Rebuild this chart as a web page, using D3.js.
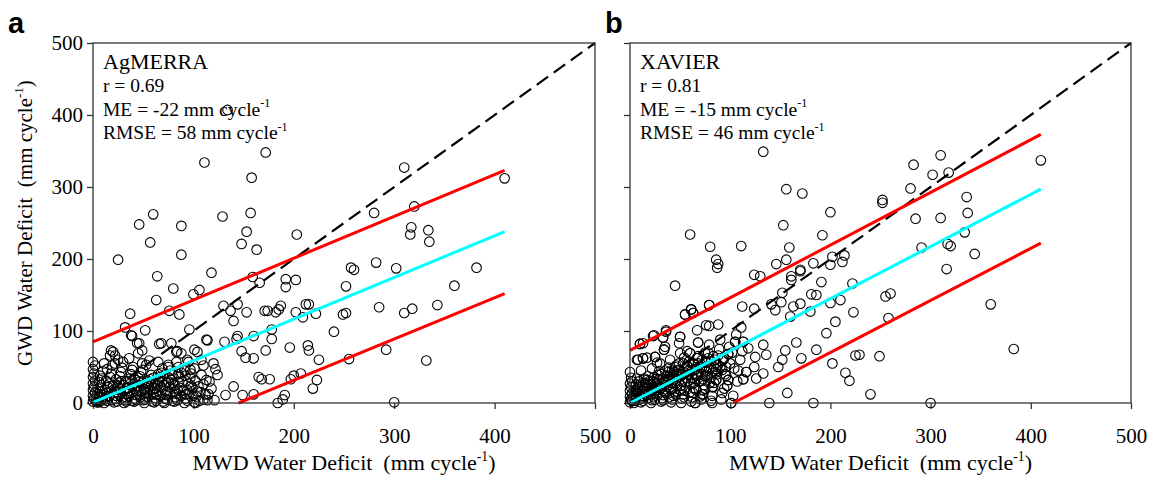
<!DOCTYPE html>
<html lang="en">
<head>
<meta charset="UTF-8">
<title>GWD vs MWD water deficit</title>
<script src="https://cdn.jsdelivr.net/npm/d3@7/dist/d3.min.js"></script>
<style>
    body { margin: 0; background: #fff; }
    svg text { font-family: "Liberation Serif", "Times New Roman", serif; fill: #000; }
    .frame { fill: none; stroke: #333; stroke-width: 1.3px; }
    .pt { fill: none; stroke: #000; stroke-width: 1.1px; }
    svg text.letter { font-family: "Liberation Sans", Arial, sans-serif; font-weight: bold; }
    .tick line { stroke: #333; stroke-width: 1.3px; }
</style>
</head>
<body>
<script>
    // tick values shared by both axes
    const ticks = [0, 100, 200, 300, 400, 500];

    // panel a: AgMERRA vs MWD  [MWD, GWD] in mm/cycle
    const agmerraPts = [
        [134,407],[111,334],[172,348],[158,313],[310,327],[280,264],[320,273],[317,244],[316,234],[334,240],[335,224],[410,312],
        [46,248],[60,262],[88,246],[129,259],[157,264],[153,238],[57,223],[148,221],[163,213],[203,234],[88,206],[25,199],
        [257,188],[260,185],[282,195],[118,181],[302,187],[382,188],[252,162],[360,163],[285,133],[249,123],[252,125],[310,125],
        [318,131],[343,136],[240,99],[292,74],[255,61],[332,59],[300,1],
        [64,176],[159,175],[166,167],[192,172],[202,171],[192,161],[80,159],[100,151],[106,157],[63,143],[76,128],[86,123],
        [37,124],[130,135],[144,137],[137,128],[153,126],[140,114],[171,128],[174,128],[182,126],[187,135],[185,130],[212,137],
        [215,137],[209,119],[222,124],[202,126],
        [52,101],[39,93],[46,83],[49,73],[68,83],[96,102],[114,87],[131,85],[143,89],[144,93],[160,93],[178,102],[178,89],
        [172,73],[148,72],[152,63],[160,62],[196,77],[214,80],[215,73],[225,60],[104,71],[84,72],[94,60],[83,57],[75,50],
        [18,73],[22,66],[120,55],[122,47],[124,39],[110,52],[98,41],[165,36],[168,33],[176,33],[140,23],[149,11],[160,12],
        [197,33],[200,38],[207,41],[223,32],[219,20],[191,11],[184,0],[132,11],[121,4],[102,0],[189,5],
        // dense cloud near the origin
        [0,2],[1,6],[0,10],[2,14],[0,18],[1,22],[0,27],[2,31],[0,36],[1,41],[0,47],[2,52],[0,57],
        [4,1],[5,4],[6,8],[4,12],[7,16],[5,20],[8,25],[6,29],[9,34],[7,38],[10,44],[8,3],[9,11],
        [11,0],[12,5],[13,9],[14,14],[12,18],[15,22],[16,27],[13,31],[17,36],[18,41],[14,47],[19,52],[17,66],[20,71],[11,55],
        [21,1],[22,6],[23,10],[24,15],[21,19],[25,23],[26,28],[23,33],[27,37],[28,43],[22,55],[29,49],[25,60],
        [31,0],[32,4],[33,8],[34,13],[31,17],[35,21],[36,26],[33,30],[37,34],[38,40],[30,57],[39,46],[32,105],[38,94],[36,62],
        [41,2],[42,6],[43,11],[44,16],[41,20],[45,24],[46,29],[42,32],[47,37],[48,43],[40,50],[44,83],[45,69],[49,55],
        [51,0],[52,5],[53,9],[54,14],[51,19],[55,23],[56,28],[52,23],[57,33],[58,39],[53,53],[56,59],[50,46],
        [61,1],[62,7],[63,12],[64,17],[61,21],[65,26],[66,31],[62,27],[67,36],[68,42],[65,57],[66,82],[69,48],
        [71,0],[72,6],[73,11],[74,16],[71,25],[75,30],[76,35],[72,40],[77,45],[75,53],[78,32],[78,83],
        [81,2],[82,8],[83,13],[84,19],[81,24],[85,29],[86,36],[88,42],[85,50],[83,71],[88,69],
        [91,0],[92,6],[93,12],[94,18],[95,27],[97,35],[91,45],[95,57],[99,21],
        [101,1],[103,9],[105,23],[107,15],[108,60],[101,48],[101,74],[113,32],[110,5],[115,12],[118,20],[113,88],
        [3,3],[6,1],[9,7],[11,13],[14,3],[16,9],[18,16],[19,4],[20,24],[24,2],[26,12],[27,19],[29,7],[28,30],[30,25],
        [33,2],[34,20],[36,9],[37,17],[39,3],[40,26],[43,4],[44,22],[45,35],[47,8],[48,18],[49,28],[50,4],[52,14],[54,31],
        [55,8],[57,18],[58,26],[59,2],[60,12],[60,35],[62,20],[63,3],[65,40],[67,10],[68,22],[69,30],[70,2],[72,17],[73,28],
        [74,5],[76,22],[77,13],[79,3],[79,39],[80,28],[82,16],[84,4],[85,40],[87,21],[88,10],[89,30],[90,17],[92,38],[94,3],
        [96,13],[97,46],[98,24],[100,10],[102,31],[104,16],[106,3],[108,39],[110,26],[112,12],[114,4],[116,30]
    ];

    // panel b: XAVIER vs MWD
    const xavierPts = [
        [133,349],[283,331],[156,297],[172,291],[280,298],[252,282],[252,278],[200,265],[285,256],[153,247],[60,234],[192,233],
        [80,217],[111,218],[159,216],[291,216],[86,199],[88,193],[146,193],[156,199],[183,194],[202,203],[214,205],[212,196],
        [200,192],[170,185],
        [310,344],[302,317],[318,320],[410,337],[336,286],[337,264],[310,257],[334,237],[317,221],[320,218],[344,207],[316,186],
        [255,148],[260,152],[258,118],[360,137],[249,65],[383,75],[240,12],[300,0],[229,67],
        [87,188],[45,163],[124,178],[130,176],[161,176],[170,183],[161,171],[191,168],[222,166],[181,151],[186,150],[200,139],
        [210,143],[170,138],[151,140],[152,153],[141,137],[145,129],[163,134],[160,120],[180,127],[223,126],[124,131],[112,134],
        [79,136],[61,130],[63,125],[55,123],[205,113],[196,97],[166,84],[171,62],[186,74],[202,55],[215,42],[219,31],[225,66],
        [155,73],[152,60],[148,50],[133,41],[126,34],[113,33],[116,43],[124,50],[125,64],[118,76],[113,85],[133,81],[136,67],
        [105,85],[98,68],[93,60],[86,47],[98,32],[86,32],[97,24],[82,22],[157,14],[183,0],[139,0],[101,0],[82,0],[65,0],
        [73,12],[67,62],[60,69],[64,54],[67,101],[76,108],[79,107],[88,109],[68,84],[79,81],[50,92],[33,91],[23,93],[10,82],
        [34,74],[25,64],[36,101],[13,62],[7,60],
        // dense cloud near the origin
        [0,1],[1,5],[0,9],[2,13],[0,17],[1,22],[0,27],[1,35],[0,43],[2,30],
        [4,0],[5,3],[6,7],[4,11],[7,14],[5,18],[8,22],[6,26],[9,30],[7,34],[8,60],[9,5],[10,82],
        [11,1],[12,6],[13,10],[14,13],[12,17],[15,20],[16,25],[13,28],[17,32],[18,37],[14,34],[13,62],[17,63],[13,83],[19,15],[11,45],
        [21,0],[22,4],[23,9],[24,14],[21,18],[25,21],[26,26],[23,30],[27,34],[28,39],[29,44],[25,64],[27,56],[24,94],[22,48],
        [31,2],[32,7],[33,11],[34,16],[31,21],[35,25],[36,30],[33,34],[37,38],[38,43],[39,49],[35,78],[36,99],[33,91],[34,74],[30,55],
        [41,1],[42,5],[43,10],[44,15],[41,20],[45,26],[46,31],[42,35],[47,40],[48,46],[44,43],[49,83],[50,69],[49,55],[40,60],[46,52],[50,92],
        [51,0],[52,6],[53,12],[54,17],[51,24],[55,29],[56,35],[52,39],[57,44],[58,50],[55,123],[59,58],[54,63],[57,72],
        [61,2],[62,8],[63,14],[64,21],[61,27],[65,33],[66,40],[62,45],[67,48],[68,55],[61,130],[63,125],[67,62],[60,69],[68,84],[65,0],
        [71,5],[72,12],[73,18],[74,25],[71,31],[75,37],[76,44],[72,50],[77,56],[78,62],[79,136],[70,9],[75,70],
        [81,3],[82,10],[83,22],[84,28],[81,36],[85,42],[86,47],[88,53],[85,60],[86,32],[89,75],
        [91,5],[92,14],[93,60],[94,20],[95,40],[97,24],[98,32],[98,68],[96,50],[90,88],[99,78],
        [101,0],[103,10],[105,85],[107,30],[108,45],[110,60],[112,72],[113,33],[116,43],[113,85],[106,95],[111,105],
        [2,3],[3,8],[5,12],[6,16],[8,19],[9,25],[10,9],[12,23],[13,3],[15,28],[16,11],[17,19],[18,7],[19,26],[20,31],
        [21,12],[23,22],[24,36],[25,5],[26,17],[27,28],[28,12],[29,33],[30,20],[31,40],[32,26],[33,4],[34,30],[35,45],[36,14],
        [37,23],[38,33],[39,8],[40,38],[41,28],[42,45],[43,20],[44,33],[45,50],[46,12],[47,24],[48,36],[49,45],[50,18],[51,40],
        [52,30],[53,55],[54,8],[55,42],[56,22],[57,52],[58,30],[59,40],[60,15],[62,35],[63,55],[64,28],[65,46],[66,18],[67,38],
        [68,65],[69,30],[70,50],[71,40],[72,60],[73,33],[74,48],[75,20],[76,56],[77,38],[78,70],[79,48],[80,28],[81,58],[82,42],
        [83,65],[84,50],[86,56],[87,40],[88,66],[90,50],[92,46],[94,62],[96,38],[100,55],[102,70],[104,48]
    ];

    // fitted line and prediction band end points
    const agmerraFit = [[0, 1], [410, 238]];
    const agmerraUpper = [[0, 85], [410, 323]];
    const agmerraLower = [[145, 0], [410, 152]];
    const xavierFit = [[0, 0], [410, 297]];
    const xavierUpper = [[0, 73], [410, 373]];
    const xavierLower = [[103, 0], [410, 222]];
    const oneToOne = [[0, 0], [500, 500]];

    // text in each panel: [main text, superscript]
    const agmerraStats = [["r = 0.69", ""], ["ME = -22 mm cycle", "-1"], ["RMSE = 58 mm cycle", "-1"]];
    const xavierStats = [["r = 0.81", ""], ["ME = -15 mm cycle", "-1"], ["RMSE = 46 mm cycle", "-1"]];

    const width = 1149;
    const height = 477;
    const plotTop = 43, plotBottom = 403;
    const serif = '"Liberation Serif", "Times New Roman", serif';

    const svg = d3.select('body')
        .append('svg')
        .attr('width', width)
        .attr('height', height);

    const panels = [
        {letter: 'a', name: 'AgMERRA', stats: agmerraStats, pts: agmerraPts, fit: agmerraFit,
         upper: agmerraUpper, lower: agmerraLower, left: 93, right: 595, letterX: 8, yLabels: true},
        {letter: 'b', name: 'XAVIER', stats: xavierStats, pts: xavierPts, fit: xavierFit,
         upper: xavierUpper, lower: xavierLower, left: 630, right: 1131, letterX: 605, yLabels: false}
    ];

    // text with a small raised part, e.g. cycle^-1, and optional text after it
    function supText (sel, main, sup, size, after) {
        sel.append('tspan').text(main);
        if (sup) {
            sel.append('tspan').attr('font-size', size * 0.62).attr('dy', -size * 0.42).text(sup);
        }
        if (after) {
            sel.append('tspan').attr('dy', sup ? size * 0.42 : 0).text(after);
        }
    }

    panels.forEach(p => {
        const x = d3.scaleLinear().domain([0, 500]).range([p.left, p.right]);
        const y = d3.scaleLinear().domain([0, 500]).range([plotBottom, plotTop]);
        const g = svg.append('g');

        // axes
        const xAxis = g.append('g')
            .attr('transform', `translate(0,${plotBottom})`)
            .call(d3.axisBottom(x).tickValues(ticks).tickSize(6).tickPadding(19));
        xAxis.select('.domain').remove();
        xAxis.selectAll('text').attr('font-size', 21).attr('font-family', serif);

        const yAxis = g.append('g')
            .attr('transform', `translate(${p.left},0)`)
            .call(d3.axisLeft(y).tickValues(ticks).tickSize(6).tickPadding(4));
        yAxis.select('.domain').remove();
        if (p.yLabels) {
            yAxis.selectAll('text').attr('font-size', 21).attr('font-family', serif);
        } else {
            yAxis.selectAll('text').remove();
        }

        // scatter
        g.append('g').selectAll('circle')
            .data(p.pts)
            .enter()
            .append('circle')
            .attr('class', 'pt')
            .attr('cx', d => x(d[0]))
            .attr('cy', d => y(d[1]))
            .attr('r', 4.8);

        const line = d3.line().x(d => x(d[0])).y(d => y(d[1]));

        g.append('path').attr('d', line(oneToOne))
            .attr('fill', 'none').attr('stroke', '#000').attr('stroke-width', 2.2)
            .attr('stroke-dasharray', '14,7');
        [p.upper, p.lower].forEach(seg => {
            g.append('path').attr('d', line(seg))
                .attr('fill', 'none').attr('stroke', '#ff0000').attr('stroke-width', 3);
        });
        g.append('path').attr('d', line(p.fit))
            .attr('fill', 'none').attr('stroke', '#00ffff').attr('stroke-width', 3);

        // frame
        g.append('rect').attr('class', 'frame')
            .attr('x', p.left).attr('y', plotTop)
            .attr('width', p.right - p.left).attr('height', plotBottom - plotTop);

        // panel text
        g.append('text').attr('x', p.left + 10).attr('y', 69)
            .attr('font-size', 22).text(p.name);
        p.stats.forEach((s, i) => {
            const t = g.append('text').attr('x', p.left + 10).attr('y', 92 + i * 23.5)
                .attr('font-size', 19.5);
            supText(t, s[0], s[1], 19.5);
        });

        g.append('text').attr('class', 'letter')
            .attr('x', p.letterX).attr('y', 33)
            .attr('font-size', 29).text(p.letter);

        // x title
        const xt = g.append('text')
            .attr('x', (p.left + p.right) / 2).attr('y', 470)
            .attr('text-anchor', 'middle').attr('font-size', 22)
            .style('white-space', 'pre');
        supText(xt, 'MWD Water Deficit  (mm cycle', '-1', 22, ')');
    });

    // y title, only on the left panel
    const yt = svg.append('text')
        .attr('transform', `translate(32,${(plotTop + plotBottom) / 2}) rotate(-90)`)
        .attr('text-anchor', 'middle').attr('font-size', 21)
        .style('white-space', 'pre');
    supText(yt, 'GWD Water Deficit  (mm cycle', '-1', 21, ')');
</script>
</body>
</html>
